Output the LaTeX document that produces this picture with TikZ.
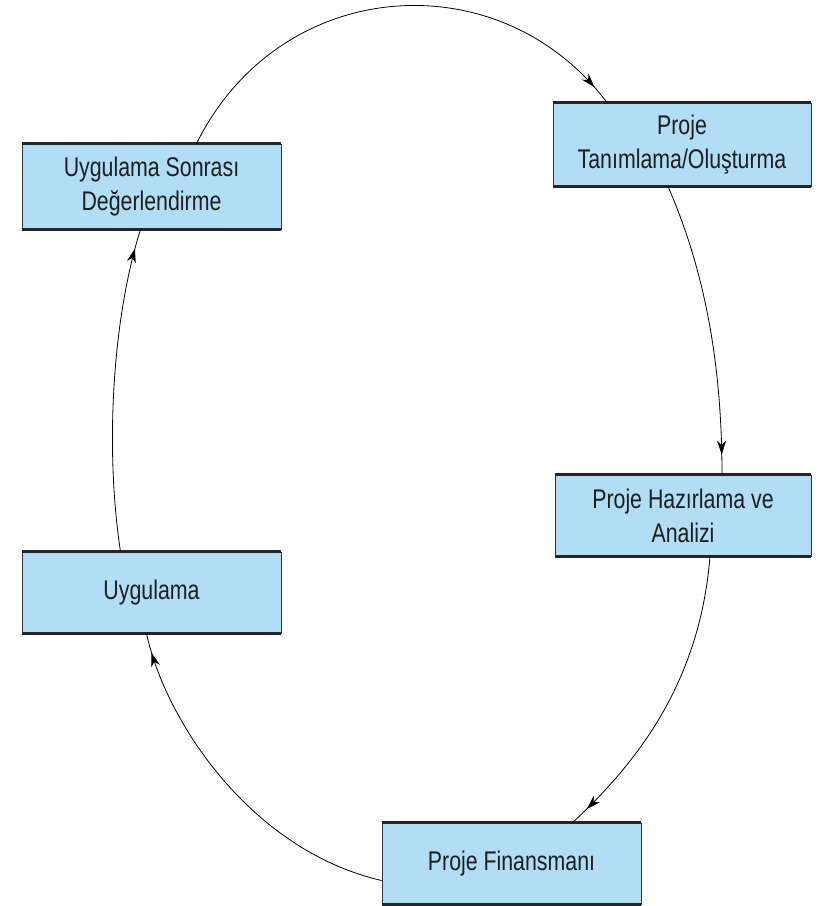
\documentclass[tikz,border=0pt]{standalone}
\usepackage{fontspec}
\setmainfont{Liberation Sans}[FakeStretch=0.79]
\usetikzlibrary{arrows.meta,decorations.markings}
\definecolor{boxfill}{RGB}{178,221,246}
\definecolor{boxtext}{RGB}{30,30,30}
\tikzset{
  stage/.style={draw=black!80, line width=0.8pt, fill=boxfill, text=boxtext,
    align=center, font=\fontsize{27}{34}\selectfont, inner sep=0pt},
  flow/.style={draw=black, line width=0.8pt, postaction={decorate},
    decoration={markings, mark=at position -20pt with {\arrow{Stealth[length=14pt,width=9pt]}}}},
  edge/.style={line width=2.6pt, draw=black!85}
}
\begin{document}
\begin{tikzpicture}[x=1pt,y=-1pt]
\useasboundingbox (0,0) rectangle (819,906);
\node[stage, minimum width=258pt, minimum height=83pt] (tan) at (682,144.5) {Proje\\Tanımlama/Oluşturma};
\node[stage, minimum width=256pt, minimum height=81pt] (haz) at (683,515.5) {Proje Hazırlama ve\\Analizi};
\node[stage, minimum width=259pt, minimum height=81pt] (fin) at (511.5,863.5) {Proje Finansmanı};
\node[stage, minimum width=259pt, minimum height=81pt] (uyg) at (151.5,592.5) {Uygulama};
\node[stage, minimum width=259pt, minimum height=85pt] (son) at (151.5,186.5) {Uygulama Sonrası\\Değerlendirme};
\foreach \n in {tan,haz,fin,uyg,son}{
  \draw[edge] (\n.north west) -- (\n.north east);
  \draw[edge] (\n.south west) -- (\n.south east);
}
\draw[flow] ([xshift=45pt]son.north) .. controls (280,-25) and (500,-40) .. ([xshift=-75pt]tan.north);
\draw[flow] ([xshift=-14pt]tan.south) .. controls (700,260) and (722,350) .. ([xshift=39pt]haz.north);
\draw[flow] ([xshift=27pt]haz.south) .. controls (700,680) and (640,760) .. ([xshift=61pt]fin.north);
\draw[flow] ([yshift=-17pt]fin.west) .. controls (250,850) and (165,720) .. ([xshift=-5pt]uyg.south);
\draw[flow] ([xshift=-31pt]uyg.north) .. controls (105,450) and (112,320) .. ([xshift=-11pt]son.south);
\end{tikzpicture}
\end{document}
